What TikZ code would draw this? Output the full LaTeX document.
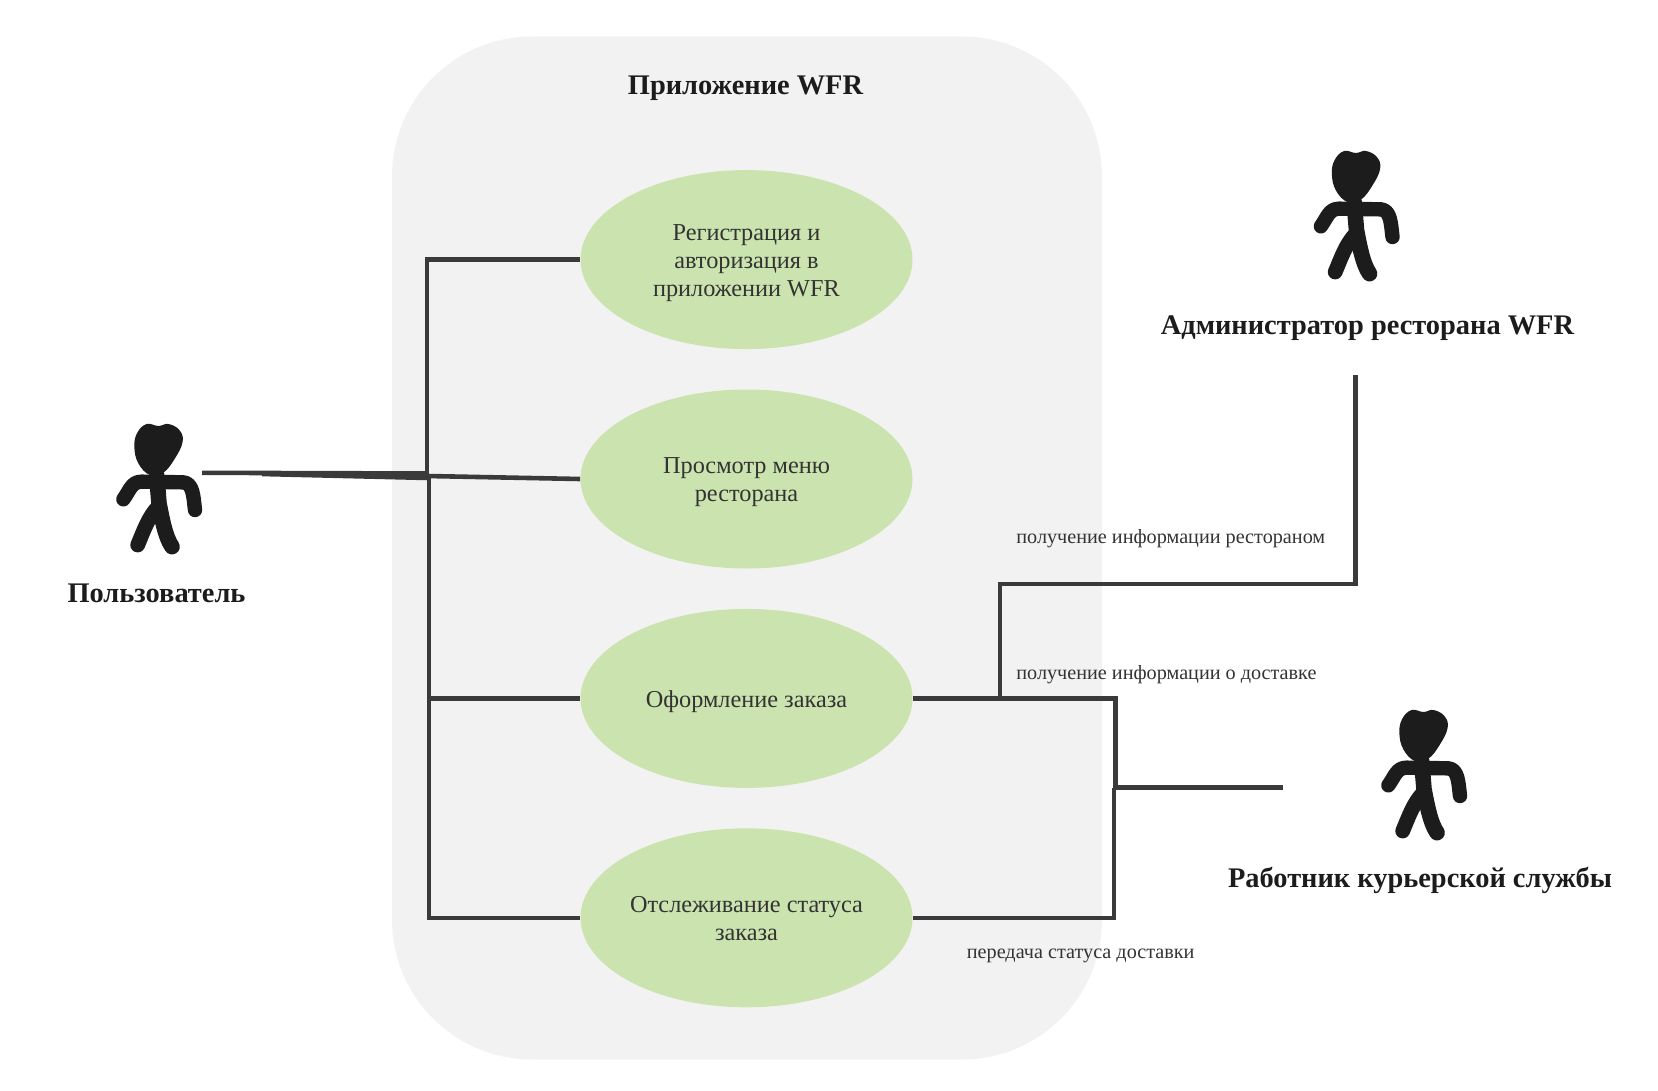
\documentclass[tikz,border=0pt]{standalone}
\usepackage{fontspec}
\setmainfont{Liberation Serif}
\usetikzlibrary{shapes.geometric}
\definecolor{appgray}{HTML}{F2F2F2}
\definecolor{usegreen}{HTML}{CBE4AF}
\definecolor{wiregray}{HTML}{3A3A3A}
\definecolor{textgray}{HTML}{333333}
\definecolor{mangray}{HTML}{1C1C1C}
\newcommand{\lowertext}{\rule{0pt}{11.5pt}}
\tikzset{
	actorman/.pic={
		\begin{scope}[x=0.16667pt,y=-0.16667pt]
			\fill[mangray] plot[smooth cycle,tension=0.7] coordinates {(205,78) (170,72) (142,98) (133,140) (145,190) (180,225) (220,218) (255,175) (278,125) (268,90) (235,72)};
			\draw[mangray,line width=7.2pt,line cap=round,line join=round] (100,298) .. controls (120,270) and (125,245) .. (155,245) -- (280,247) .. controls (310,250) and (310,290) .. (315,330);
			\draw[mangray,line width=7.8pt,line cap=round,line join=round] (200,225) -- (207,310) .. controls (215,350) and (225,410) .. (246,440);
			\draw[mangray,line width=7.4pt,line cap=round,line join=round] (143,435) .. controls (160,395) and (175,350) .. (205,320);
		\end{scope}
	}
}
\begin{document}
\begin{tikzpicture}[x=0.5pt,y=-0.5pt,node distance=109.7pt,wire/.style={draw=wiregray,line width=2.3pt},usecase/.style={ellipse,fill=usegreen,minimum width=166pt,minimum height=89.5pt,inner sep=0pt,align=center,text=textgray,font=\fontsize{12.15}{14}\selectfont},actorname/.style={text=mangray,font=\fontsize{14.2}{16}\selectfont\bfseries},flowlabel/.style={anchor=west,inner sep=0pt,text=textgray,font=\fontsize{10.1}{12}\selectfont}]
	\useasboundingbox (0,0) rectangle (1658,1091);
	\node[fill=appgray,rounded corners=70pt,minimum width=355pt,minimum height=511.5pt] (app) at (747,548) {};
	\node[actorname] (apptitle) at (745.5,88) {Приложение WFR};

	\node[usecase] (reg) at (746.5,259.6) {\lowertext Регистрация и\\авторизация в\\приложении WFR};
	\node[usecase] (menu) [below of=reg] {\lowertext Просмотр меню\\ресторана};
	\node[usecase] (order) [below of=menu] {\lowertext Оформление заказа};
	\node[usecase] (track) [below of=order] {\lowertext Отслеживание статуса\\заказа\rule[-2.6pt]{0pt}{2.6pt}};

	\pic at (90,400) {actorman};
	\pic at (1287.5,127) {actorman};
	\pic at (1355,686) {actorman};
	\node[actorname] (user) at (156.5,593) {Пользователь};
	\node[actorname] (admin) at (1367.5,328) {Администратор ресторана WFR};
	\node[actorname] (courier) at (1420,880) {Работник курьерской службы};

	\node[flowlabel] (restlabel) at (1016,539) {получение информации рестораном};
	\node[flowlabel] (dlvlabel) at (1016,675) {получение информации о доставке};
	\node[flowlabel] (statlabel) at (966.5,955.5) {передача статуса доставки};

	\coordinate (userend) at (202,472.8);
	\coordinate (usermid) at (262,474);
	\coordinate (joinup) at (427,476);
	\coordinate (joinlow) at (429,476);
	\coordinate (adminend) at (1355.5,375);
	\coordinate (adminbend) at (1000,698.4);
	\coordinate (dlvcorner) at (1115.5,698.4);
	\coordinate (dlvjoin) at (1115.5,787.5);
	\coordinate (statjoin) at (1114,787.5);
	\coordinate (courierend) at (1283,787.5);

	\draw[wire] (userend) -- (427,473.5);
	\draw[wire] (usermid) -- (429,478);
	\draw[wire] (joinup) -- (menu.west);
	\draw[wire] (reg.west) -| (joinup);
	\draw[wire] (joinlow) |- (order.west);
	\draw[wire] (joinlow) |- (track.west);
	\draw[wire] (order.east) -- (dlvcorner) -- (dlvjoin);
	\draw[wire] (track.east) -| (statjoin);
	\draw[wire] (statjoin) -- (courierend);
	\draw[wire] (adminend) |- (1000,584) -- (adminbend);
\end{tikzpicture}
\end{document}
